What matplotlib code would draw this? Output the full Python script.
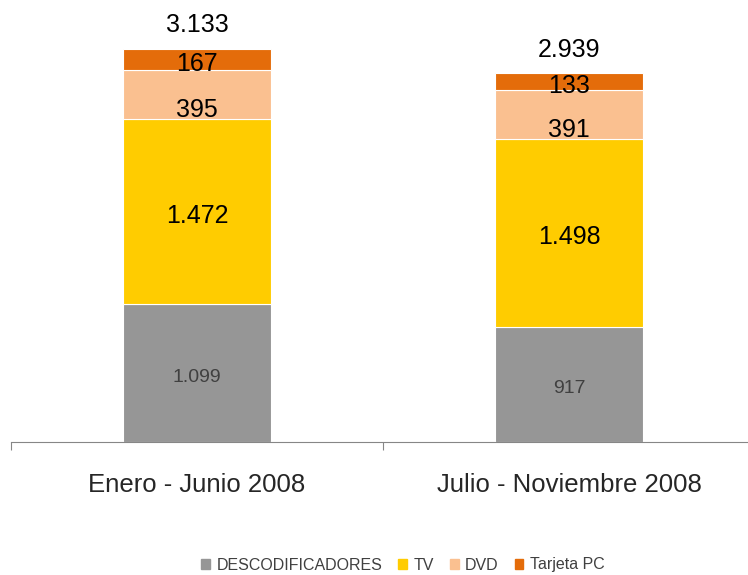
import numpy as np
import matplotlib.pyplot as plt
from matplotlib.patches import Patch

plt.rcParams['font.family'] = ['Liberation Sans', 'DejaVu Sans']

# datos
categorias = ['Enero - Junio 2008', 'Julio - Noviembre 2008']
series = ['DESCODIFICADORES', 'TV', 'DVD', 'Tarjeta PC']
descodificadores = [1099, 917]
tv = [1472, 1498]
dvd = [395, 391]
tarjeta = [167, 133]
totales = [3133, 2939]
etiquetas = [['1.099', '917'], ['1.472', '1.498'], ['395', '391'], ['167', '133']]
etiquetas_total = ['3.133', '2.939']

colores = ['#969696', '#FFCC00', '#FAC090', '#E46C0A']

fig = plt.figure(figsize=(7.48, 5.75), dpi=100)
ax = fig.add_axes([11 / 748, 133 / 575, 744 / 748, 442 / 575])

x = np.arange(len(categorias))
bottom = np.zeros(len(categorias))
valores = [descodificadores, tv, dvd, tarjeta]
for i, vals in enumerate(valores):
    ax.bar(x, vals, 0.4, bottom=bottom, color=colores[i], edgecolor='white', linewidth=0.8)
    for j in range(len(x)):
        yc = bottom[j] + vals[j] / 2
        dy = -11 if i == 2 else -3
        fs = 14 if i == 0 else 18
        col = '#404040' if i == 0 else 'black'
        ax.annotate(etiquetas[i][j], (x[j], yc), xytext=(0, dy), textcoords='offset points',
                    ha='center', va='center', fontsize=fs, color=col)
    bottom += np.array(vals)

for j in range(len(x)):
    ax.annotate(etiquetas_total[j], (x[j], totales[j]), xytext=(0, 17), textcoords='offset points',
                ha='center', va='center', fontsize=18, color='black')

ax.set_xlim(-0.5, 1.5)
ax.set_ylim(0, 3523)
for s in ['top', 'right', 'left']:
    ax.spines[s].set_visible(False)
ax.spines['bottom'].set_color('#868686')
ax.set_yticks([])
ax.set_xticks([-0.5, 0.5, 1.5])
ax.set_xticklabels([])
ax.set_xticks(x, minor=True)
ax.set_xticklabels(categorias, minor=True, fontsize=18.5, color='#262626')
ax.tick_params(axis='x', which='major', direction='out', length=6, color='#868686')
ax.tick_params(axis='x', which='minor', length=0, pad=22)

handles = [Patch(color=c) for c in colores]
fig.legend(handles, series, loc='center', bbox_to_anchor=(403 / 748, 1 - 565 / 575), ncol=4,
           frameon=False, fontsize=11.5, handlelength=0.55, handleheight=0.55, handletextpad=0.4,
           columnspacing=1.0, labelcolor='#404040')

fig.savefig('out.png', dpi=100)
